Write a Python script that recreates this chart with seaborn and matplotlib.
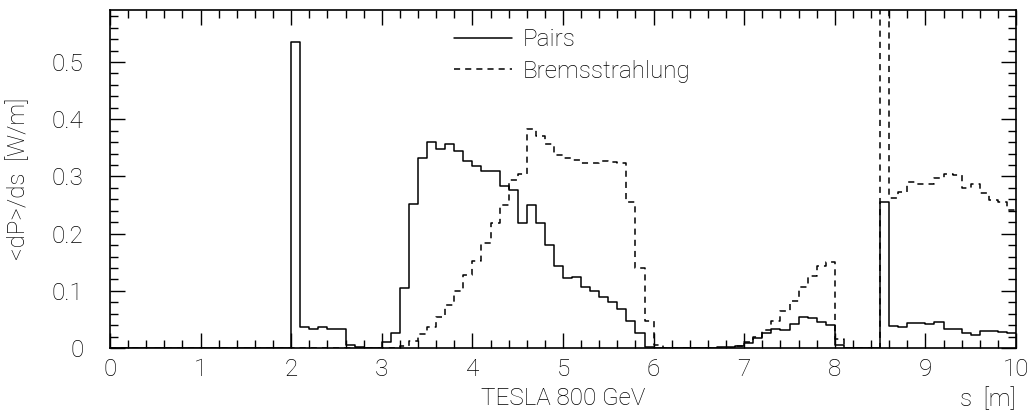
import numpy as np
import pandas as pd
import matplotlib
matplotlib.use("Agg")
import matplotlib.pyplot as plt
from matplotlib.lines import Line2D
from matplotlib.ticker import MultipleLocator, FixedLocator, FixedFormatter
import seaborn as sns

# ---- data: 100 bins of 0.1 m from 0 to 10 m ----
bin_edges = [round(0.1 * i, 1) for i in range(101)]
pairs = [
    0, 0, 0, 0, 0, 0, 0, 0, 0, 0,
    0, 0, 0, 0, 0, 0, 0, 0, 0, 0,
    0.535, 0.037, 0.033, 0.036, 0.033, 0.033, 0.005, 0.001, 0, 0,
    0.010, 0.026, 0.105, 0.252, 0.333, 0.360, 0.348, 0.357, 0.344, 0.327,
    0.319, 0.310, 0.310, 0.284, 0.277, 0.219, 0.250, 0.218, 0.180, 0.144,
    0.123, 0.125, 0.107, 0.100, 0.090, 0.081, 0.069, 0.048, 0.026, 0.002,
    0, 0, 0, 0, 0, 0, 0, 0.001, 0.002, 0.003,
    0.009, 0.017, 0.027, 0.034, 0.031, 0.042, 0.055, 0.053, 0.046, 0.041,
    0.005, 0, 0, 0, 0, 0.256, 0.038, 0.036, 0.044, 0.043,
    0.042, 0.045, 0.033, 0.033, 0.026, 0.023, 0.029, 0.030, 0.028, 0.027,
]
brems = [
    0, 0, 0, 0, 0, 0, 0, 0, 0, 0,
    0, 0, 0, 0, 0, 0, 0, 0, 0, 0,
    0, 0, 0, 0, 0, 0, 0, 0, 0, 0,
    0, 0, 0.004, 0.012, 0.024, 0.036, 0.055, 0.076, 0.100, 0.128,
    0.153, 0.183, 0.218, 0.250, 0.294, 0.305, 0.383, 0.370, 0.357, 0.338,
    0.333, 0.329, 0.324, 0.323, 0.327, 0.326, 0.323, 0.255, 0.140, 0.047,
    0.005, 0, 0, 0, 0, 0, 0, 0, 0, 0.004,
    0.011, 0.019, 0.031, 0.048, 0.065, 0.082, 0.107, 0.126, 0.143, 0.151,
    0.016, 0, 0, 0, 0, 1.5, 0.262, 0.272, 0.290, 0.287,
    0.287, 0.297, 0.304, 0.303, 0.279, 0.286, 0.271, 0.259, 0.256, 0.241,
]
series_names = ["Pairs", "Bremsstrahlung"]
x_ticks = [0, 1, 2, 3, 4, 5, 6, 7, 8, 9, 10]
x_tick_labels = ["0", "1", "2", "3", "4", "5", "6", "7", "8", "9", "10"]
y_ticks = [0, 0.1, 0.2, 0.3, 0.4, 0.5]
y_tick_labels = ["0", "0.1", "0.2", "0.3", "0.4", "0.5"]

centers = [(bin_edges[i] + bin_edges[i + 1]) / 2 for i in range(100)]
df_p = pd.DataFrame({"s": centers, "w": pairs})
df_b = pd.DataFrame({"s": centers, "w": brems})

sns.set_theme(style="ticks")
plt.rcParams["font.family"] = ["Roboto", "DejaVu Sans"]
plt.rcParams["font.weight"] = "light"
plt.rcParams["axes.labelweight"] = "light"

FS = 17.5
TXT = "black"

fig = plt.figure(figsize=(10.34, 4.2), dpi=100)
ax = fig.add_axes([0.1064, 0.1714, 0.8762, 0.8048])

lw = 1.1
sns.histplot(data=df_p, x="s", weights="w", bins=bin_edges, element="step",
             fill=False, color="black", linewidth=lw, ax=ax)
sns.histplot(data=df_b, x="s", weights="w", bins=bin_edges, element="step",
             fill=False, color="black", linewidth=lw, linestyle=(0, (4, 3.3)), ax=ax)

ax.set_xlim(0, 10)
ax.set_ylim(0, 0.591)

ax.xaxis.set_major_locator(FixedLocator(x_ticks))
ax.xaxis.set_major_formatter(FixedFormatter(x_tick_labels))
ax.xaxis.set_minor_locator(MultipleLocator(0.2))
ax.yaxis.set_major_locator(FixedLocator(y_ticks))
ax.yaxis.set_major_formatter(FixedFormatter(y_tick_labels))
ax.yaxis.set_minor_locator(MultipleLocator(0.02))

ax.tick_params(which="both", direction="in", top=True, right=True,
               color="black", width=1.0, labelsize=FS, labelcolor=TXT)
ax.tick_params(which="major", length=11)
ax.tick_params(which="minor", length=6)
ax.tick_params(axis="y", which="major", pad=19)
ax.tick_params(axis="x", which="major", pad=7)
for sp in ax.spines.values():
    sp.set_linewidth(1.2)
    sp.set_color("black")

ax.set_ylabel("<dP>/ds  [W/m]", fontsize=FS, color=TXT, fontweight="light")
ax.yaxis.set_label_coords(-0.088, 0.5)
ax.set_xlabel("TESLA 800 GeV", fontsize=FS, color=TXT, fontweight="light")
ax.xaxis.set_label_coords(0.5, -0.115)
ax.text(1.0, -0.115, "s  [m]", transform=ax.transAxes, ha="right", va="top",
        fontsize=FS, color=TXT, fontweight="light")

handles = [Line2D([], [], color="black", linewidth=lw),
           Line2D([], [], color="black", linewidth=lw, linestyle=(0, (4, 3.3)))]
ax.legend(handles, series_names, loc="upper left", bbox_to_anchor=(0.355, 1.01),
          frameon=False, fontsize=FS, handlelength=2.4, handletextpad=0.45,
          labelspacing=0.35, labelcolor=TXT)

fig.savefig("out.png", dpi=100)
